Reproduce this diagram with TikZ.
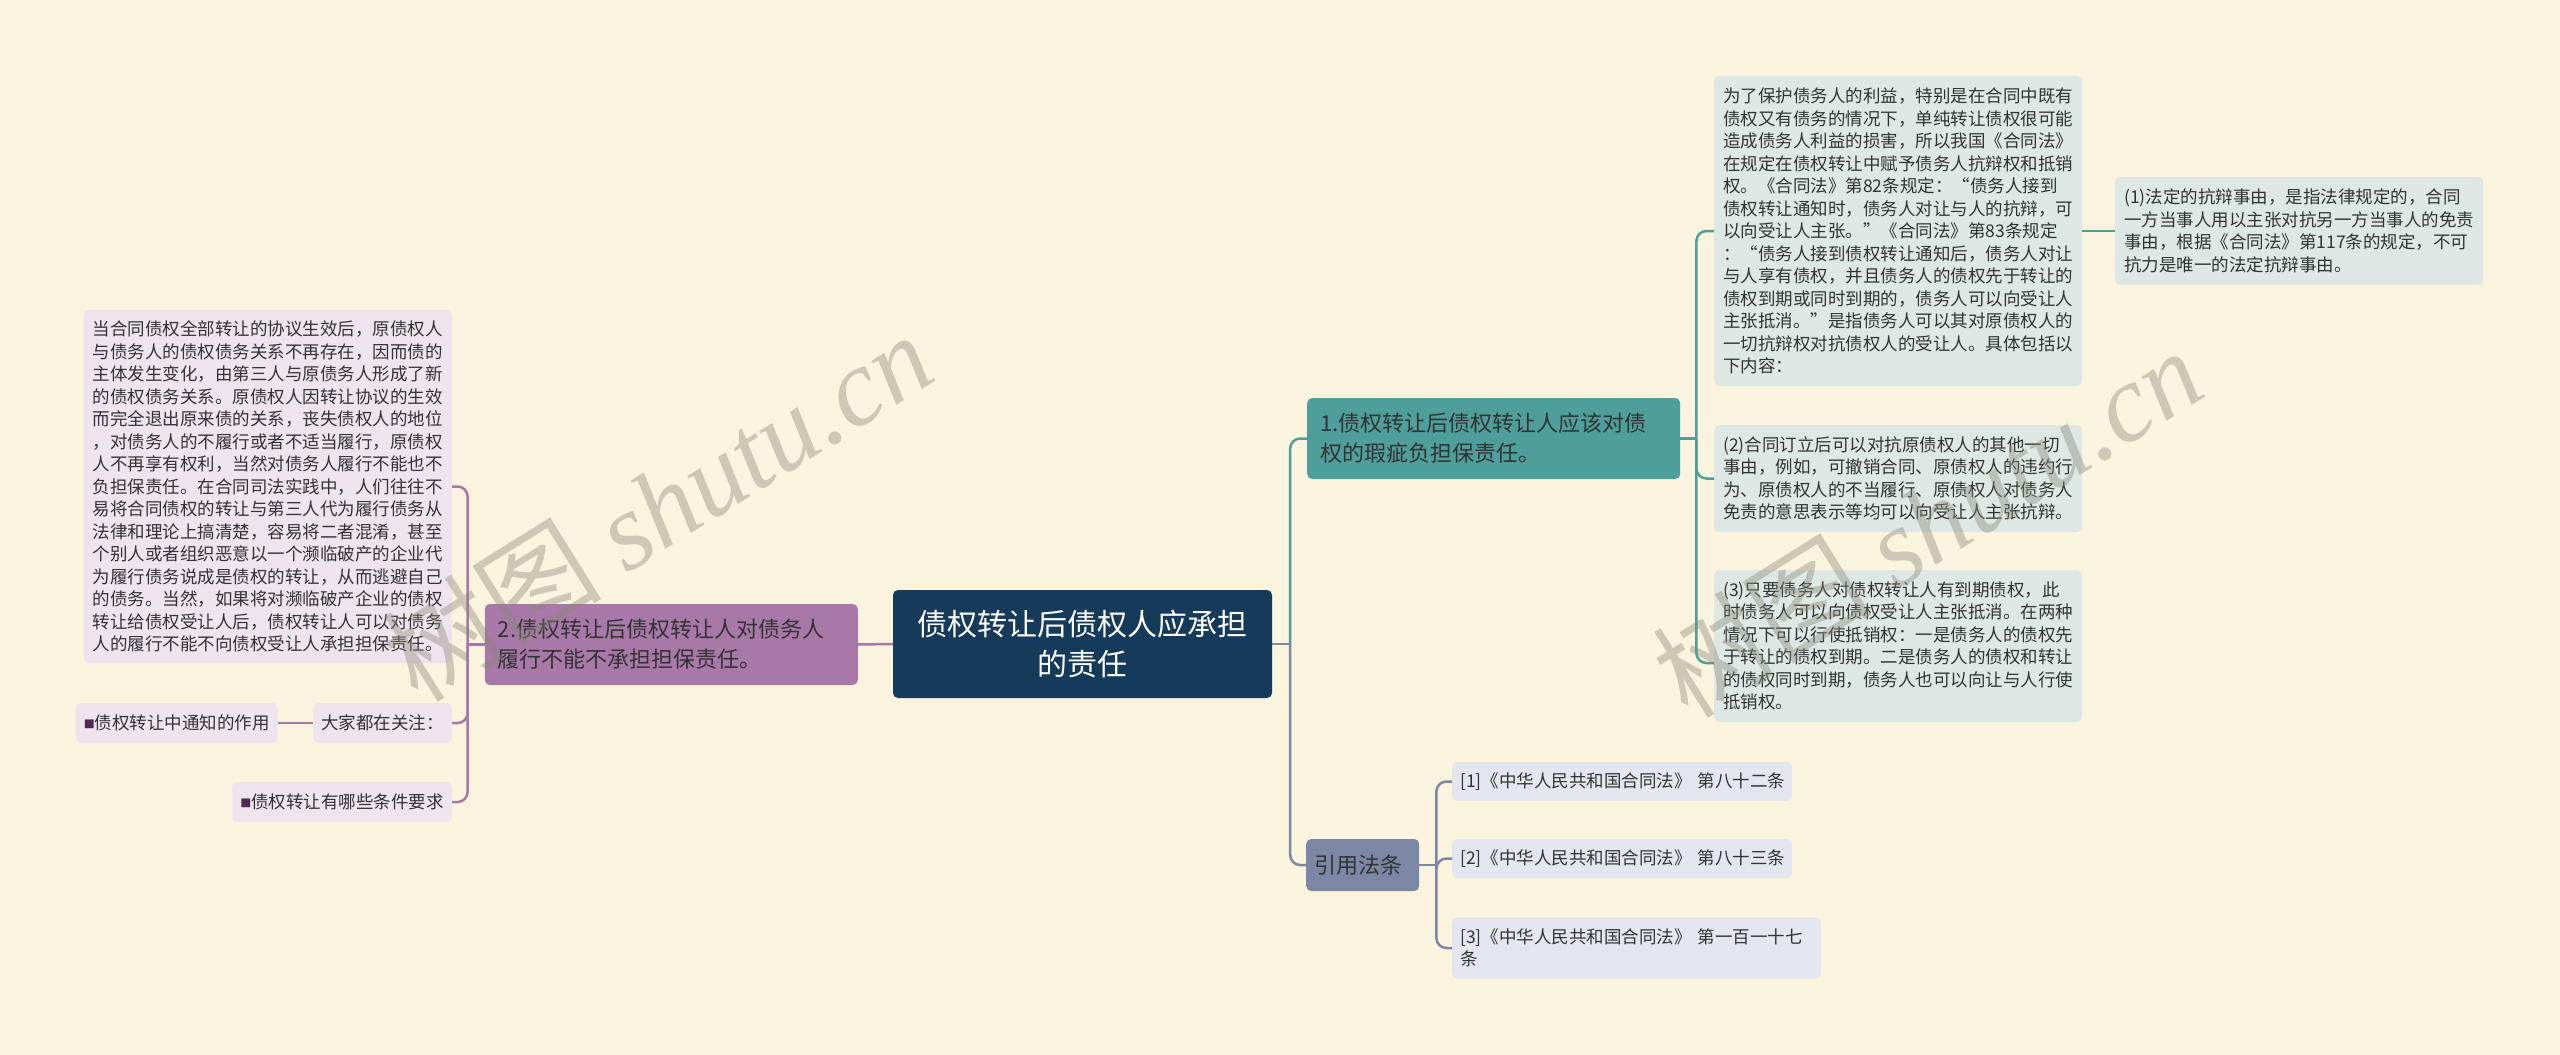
\documentclass[tikz,border=0pt]{standalone}
\usepackage{fontspec}
\setmainfont{Noto Sans CJK SC}
\newfontfamily\wmfont{Liberation Serif}
\usetikzlibrary{calc}

\definecolor{bgcol}{HTML}{FAF4DE}
\definecolor{rootcol}{HTML}{163B5A}
\definecolor{tealcol}{HTML}{4E9E9C}
\definecolor{purpcol}{HTML}{A878A8}
\definecolor{slatecol}{HTML}{7B87A5}
\definecolor{tealleaf}{HTML}{DDE8E5}
\definecolor{purpleaf}{HTML}{EEE4EE}
\definecolor{slateleaf}{HTML}{E3E6EE}
\definecolor{txtcol}{HTML}{333333}
\definecolor{bulletcol}{HTML}{4B2C4F}
\definecolor{wmcol}{HTML}{8A8878}

\newcommand\sqmark{{\color{bulletcol}\raisebox{1pt}{\fontsize{11}{11}\selectfont ■}}}

\begin{document}
\begin{tikzpicture}[x=1pt, y=-1pt,
  every node/.style={inner sep=0pt, text=txtcol},
  rootbox/.style={fill=rootcol, rounded corners=5pt, text=white, align=center,
    font=\fontsize{30}{40}\selectfont, minimum width=379pt, minimum height=108pt},
  topic/.style={rounded corners=5pt, align=left, font=\fontsize{22}{30}\selectfont,
    inner xsep=13pt, text width=347pt, minimum height=81pt},
  leaf/.style={rounded corners=5pt, align=left, font=\fontsize{17.5}{22.5}\selectfont,
    inner xsep=9pt, text width=350pt},
  small/.style={rounded corners=5pt, align=left, font=\fontsize{17.5}{22.5}\selectfont,
    inner xsep=8pt, minimum height=40pt},
  tealline/.style={draw=tealcol, line width=2.5pt, rounded corners=10pt},
  purpline/.style={draw=purpcol, line width=2.5pt, rounded corners=10pt},
  slateline/.style={draw=slatecol, line width=2.5pt, rounded corners=10pt},
  wmark/.style={text=wmcol, opacity=0.4, rotate=32, font=\fontsize{110}{110}\selectfont}]

  \fill[bgcol] (0,0) rectangle (2560,1055);

  % centre
  \node[rootbox] (root) at (1082.5,644) {债权转让后债权人应承担\\的责任};

  % right side
  \node[topic, fill=tealcol, anchor=west] (t1) at (1307,438.5)
    {1.债权转让后债权转让人应该对债\\权的瑕疵负担保责任。};
  \node[topic, fill=slatecol, anchor=west, text width=97pt, inner xsep=8pt,
    minimum height=52pt] (r3) at (1306,865) {引用法条};

  \node[leaf, fill=tealleaf, anchor=west, minimum height=310pt] (l0) at (1714,231)
    {为了保护债务人的利益，特别是在合同中既有\\
     债权又有债务的情况下，单纯转让债权很可能\\
     造成债务人利益的损害，所以我国《合同法》\\
     在规定在债权转让中赋予债务人抗辩权和抵销\\
     权。《合同法》第82条规定：“债务人接到\\
     债权转让通知时，债务人对让与人的抗辩，可\\
     以向受让人主张。”《合同法》第83条规定\\
     ：“债务人接到债权转让通知后，债务人对让\\
     与人享有债权，并且债务人的债权先于转让的\\
     债权到期或同时到期的，债务人可以向受让人\\
     主张抵消。”是指债务人可以其对原债权人的\\
     一切抗辩权对抗债权人的受让人。具体包括以\\
     下内容：};
  \node[leaf, fill=tealleaf, anchor=west, minimum height=108pt] (l1) at (2115,231)
    {(1)法定的抗辩事由，是指法律规定的，合同\\
     一方当事人用以主张对抗另一方当事人的免责\\
     事由，根据《合同法》第117条的规定，不可\\
     抗力是唯一的法定抗辩事由。};
  \node[leaf, fill=tealleaf, anchor=west, minimum height=107pt] (l2) at (1714,478.5)
    {(2)合同订立后可以对抗原债权人的其他一切\\
     事由，例如，可撤销合同、原债权人的违约行\\
     为、原债权人的不当履行、原债权人对债务人\\
     免责的意思表示等均可以向受让人主张抗辩。};
  \node[leaf, fill=tealleaf, anchor=west, minimum height=152pt] (l3) at (1714,646)
    {(3)只要债务人对债权转让人有到期债权，此\\
     时债务人可以向债权受让人主张抵消。在两种\\
     情况下可以行使抵销权：一是债务人的债权先\\
     于转让的债权到期。二是债务人的债权和转让\\
     的债权同时到期，债务人也可以向让与人行使\\
     抵销权。};

  \node[small, fill=slateleaf, anchor=west, minimum height=39pt, text width=324pt] (s1) at (1452,781.5)
    {[1]《中华人民共和国合同法》~第八十二条};
  \node[small, fill=slateleaf, anchor=west, minimum height=39pt, text width=324pt] (s2) at (1452,858.5)
    {[2]《中华人民共和国合同法》~第八十三条};
  \node[small, fill=slateleaf, anchor=west, minimum height=61pt, text width=353pt] (s3) at (1452,948)
    {[3]《中华人民共和国合同法》~第一百一十七\\条};

  % left side
  \node[topic, fill=purpcol, anchor=east] (t2) at (858,644.5)
    {2.债权转让后债权转让人对债务人\\履行不能不承担担保责任。};

  \node[leaf, fill=purpleaf, anchor=east, minimum height=353pt] (p0) at (452,486.5)
    {当合同债权全部转让的协议生效后，原债权人\\
     与债务人的债权债务关系不再存在，因而债的\\
     主体发生变化，由第三人与原债务人形成了新\\
     的债权债务关系。原债权人因转让协议的生效\\
     而完全退出原来债的关系，丧失债权人的地位\\
     ，对债务人的不履行或者不适当履行，原债权\\
     人不再享有权利，当然对债务人履行不能也不\\
     负担保责任。在合同司法实践中，人们往往不\\
     易将合同债权的转让与第三人代为履行债务从\\
     法律和理论上搞清楚，容易将二者混淆，甚至\\
     个别人或者组织恶意以一个濒临破产的企业代\\
     为履行债务说成是债权的转让，从而逃避自己\\
     的债务。当然，如果将对濒临破产企业的债权\\
     转让给债权受让人后，债权转让人可以对债务\\
     人的履行不能不向债权受让人承担担保责任。};
  \node[small, fill=purpleaf, anchor=east] (p1) at (452,723) {大家都在关注：};
  \node[small, fill=purpleaf, anchor=east] (p2) at (278,723) {\sqmark 债权转让中通知的作用};
  \node[small, fill=purpleaf, anchor=east] (p3) at (452,802) {\sqmark 债权转让有哪些条件要求};

  % connectors
  \coordinate (rb) at ($(root.east)+(18,0)$);
  \coordinate (tb) at ($(t1.east)+(16,0)$);
  \coordinate (cb) at ($(r3.east)+(17,0)$);
  \coordinate (lb) at ($(t2.west)+(-17,0)$);

  \draw[slateline] (root.east) -- (rb);
  \draw[tealline] (rb) |- (t1.west);
  \draw[slateline] (rb) |- (r3.west);

  \draw[tealline] (t1.east) -- (tb);
  \draw[tealline] (tb) |- (l0.west);
  \draw[tealline] (tb) |- (l2.west);
  \draw[tealline] (tb) |- ([yshift=-17pt]l3.west);
  \draw[tealline] (l0.east) -- (l1.west);

  \draw[slateline] (r3.east) -- (cb);
  \draw[slateline] (cb) |- (s1.west);
  \draw[slateline] (cb) |- (s2.west);
  \draw[slateline] (cb) |- (s3.west);

  \draw[purpline] (root.west) -- (t2.east);
  \draw[purpline] (t2.west) -- (lb);
  \draw[purpline] (lb) |- (p0.east);
  \draw[purpline] (lb) |- (p1.east);
  \draw[purpline] (lb) |- (p3.east);
  \draw[purpline] (p1.west) -- (p2.east);

  % watermark
  \node[wmark] (wm1) at (657,506) {树图 {\wmfont\itshape shutu.cn}};
  \node[wmark] (wm2) at (1927,522) {树图 {\wmfont\itshape shutu.cn}};
\end{tikzpicture}
\end{document}
